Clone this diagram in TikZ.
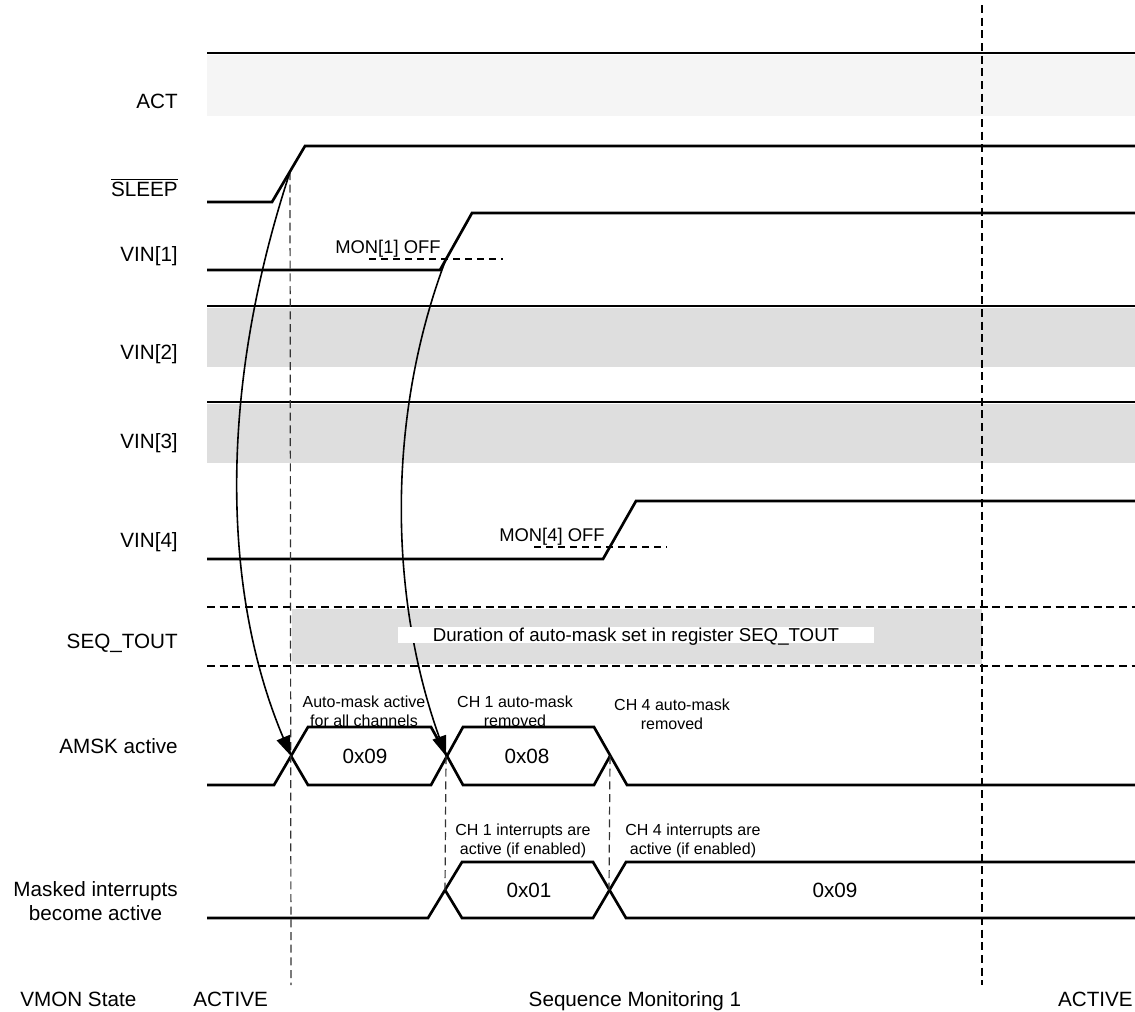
\documentclass[tikz,border=0pt]{standalone}
\usepackage{fontspec}
\setmainfont{Liberation Sans}
\usetikzlibrary{arrows.meta}

\begin{document}
\begin{tikzpicture}[x=0.75pt,y=-0.75pt,
    sig/.style={line width=2pt},
    gridline/.style={line width=0.9pt,dash pattern=on 6pt off 3.5pt},
    thr/.style={line width=0.8pt,dash pattern=on 5.5pt off 3.5pt},
    sname/.style={font=\fontsize{15.5}{18.6}\selectfont,anchor=base east,inner sep=0pt},
    mon/.style={font=\fontsize{13.8}{16}\selectfont,anchor=base west,inner sep=0pt},
    note/.style={font=\fontsize{12}{14.3}\selectfont,align=center,inner sep=0pt},
    val/.style={font=\fontsize{15.5}{18.6}\selectfont,inner sep=0pt},
    cause/.style={line width=1.2pt,-{Triangle[length=15pt,width=10.5pt]}}]
    \useasboundingbox (0,0) rectangle (1135,1011);

    \fill[black!4] (207,55) rectangle (1135,116);
    \fill[black!13] (207,308) rectangle (1135,367);
    \fill[black!13] (207,404) rectangle (1135,463);
    \fill[black!13] (292,609) rectangle (982,664);

    \coordinate (s1) at (290,172);
    \coordinate (m1) at (446,259);
    \coordinate (a1) at (291,756);
    \coordinate (a2) at (446,756);
    \coordinate (a3) at (610,756);
    \coordinate (i1) at (445,890);
    \coordinate (i2) at (609,890);

    \draw[sig] (207,53) -- (1135,53);
    \draw[sig] (207,202) -- (272,202) -- (305,146) -- (1135,146);
    \draw[sig] (207,270) -- (440,270) -- (472,213) -- (1135,213);
    \draw[sig] (207,306) -- (1135,306);
    \draw[sig] (207,402) -- (1135,402);
    \draw[sig] (207,559) -- (603,559) -- (636,501) -- (1135,501);

    \draw[sig] (207,785) -- (274,785) -- (308,727) -- (431,727) -- (463,785)
        -- (594,785) -- (a3);
    \draw[sig] (a1) -- (308,785) -- (431,785) -- (463,727) -- (594,727)
        -- (627,785) -- (1135,785);

    \draw[sig] (207,918) -- (428,918) -- (462,862) -- (593,862) -- (626,918)
        -- (1135,918);
    \draw[sig] (i1) -- (462,918) -- (593,918) -- (626,862) -- (1135,862);

    \draw[thr] (369,259) -- (503,259);
    \draw[thr] (534,547) -- (667,547);

    \draw[gridline] (207,607) -- (1135,607);
    \draw[gridline] (207,666) -- (1135,666);
    \draw[gridline,black!80] (s1) -- (291,985);
    \draw[gridline] (982,5) -- (982,985);
    \draw[gridline,black!80] (a2) -- (i1);
    \draw[gridline,black!80] (a3) -- (i2);

    \draw[cause] (s1) .. controls (215,400) and (225,600) .. (a1);
    \draw[cause] (m1) .. controls (385,420) and (390,600) .. (a2);

    \node[sname] (lact) at (178,108) {ACT};
    \node[sname] (lsleep) at (178,196) {$\overline{\mbox{SLEEP}}$};
    \node[sname] (lvin1) at (178,261) {VIN[1]};
    \node[sname] (lvin2) at (178,359) {VIN[2]};
    \node[sname] (lvin3) at (178,448) {VIN[3]};
    \node[sname] (lvin4) at (178,547) {VIN[4]};
    \node[sname] (lseq) at (178,648) {SEQ\_TOUT};
    \node[sname] (lamsk) at (178,753) {AMSK active};
    \node[sname,anchor=east,align=center] (lmask) at (178,901) {Masked interrupts\\become active};

    \node[mon] (mon1) at (335,253) {MON[1] OFF};
    \node[mon] (mon4) at (499,541) {MON[4] OFF};

    \node[fill=white,font=\fontsize{14}{16}\selectfont,inner sep=0pt,
        minimum width=357pt,minimum height=12pt,text height=10pt,text depth=0pt]
        (dur) at (636,634.5) {Duration of auto-mask set in register SEQ\_TOUT};

    \node[note] (n1) at (364,711) {Auto-mask active\\for all channels};
    \node[note] (n2) at (515,711) {CH 1 auto-mask\\removed};
    \node[note] (n3) at (672,714) {CH 4 auto-mask\\removed};
    \node[note] (n4) at (523,841) {CH 1 interrupts are\\active (if enabled)};
    \node[note] (n5) at (693,841) {CH 4 interrupts are\\active (if enabled)};

    \node[val] (v09) at (365,756) {0x09};
    \node[val] (v08) at (527,756) {0x08};
    \node[val] (v01) at (529,890) {0x01};
    \node[val] (v09b) at (835,890) {0x09};

    \node[sname,anchor=base west] (lstate) at (20,1006) {VMON State};
    \node[sname,anchor=base west] (st1) at (193,1006) {ACTIVE};
    \node[sname,anchor=base] (st2) at (635,1006) {Sequence Monitoring 1};
    \node[sname] (st3) at (1133,1006) {ACTIVE};
\end{tikzpicture}
\end{document}
